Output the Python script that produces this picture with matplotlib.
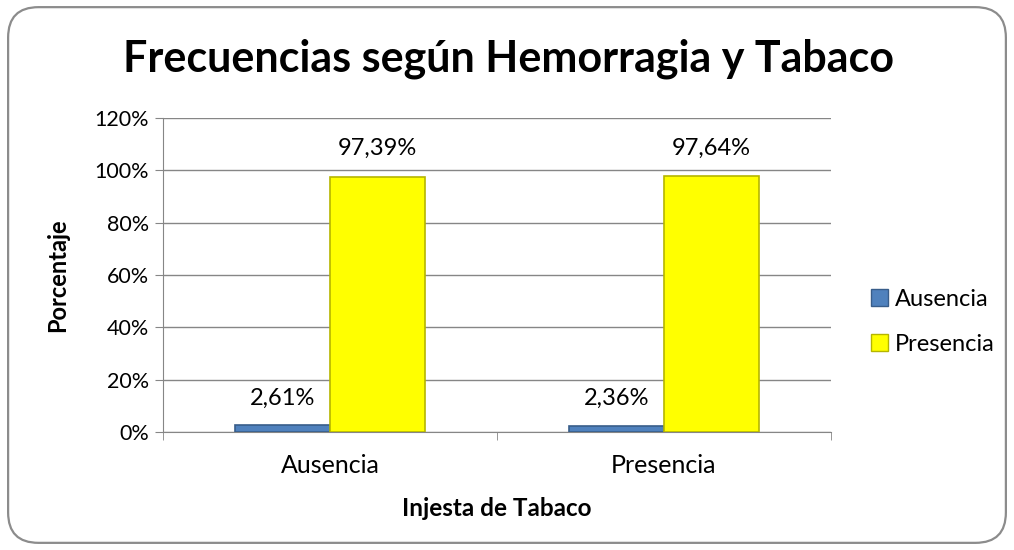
import matplotlib.pyplot as plt
import numpy as np
from matplotlib.patches import FancyBboxPatch, Patch

plt.rcParams['font.family'] = ['Lato', 'DejaVu Sans']

categories = ['Ausencia', 'Presencia']
series_names = ['Ausencia', 'Presencia']
ausencia = [2.61, 2.36]
presencia = [97.39, 97.64]
labels_aus = ['2,61%', '2,36%']
labels_pre = ['97,39%', '97,64%']

fig = plt.figure(figsize=(10.14, 5.5), dpi=100)

# rounded frame around the whole chart
frame = FancyBboxPatch((0.008, 0.013), 0.984, 0.974,
                       boxstyle='round,pad=0,rounding_size=0.03',
                       transform=fig.transFigure, facecolor='white',
                       edgecolor='#8c8c8c', linewidth=1.6, mutation_aspect=1014 / 550,
                       zorder=-1)
fig.patches.append(frame)

ax = fig.add_axes([0.1607, 0.2145, 0.6588, 0.571])
ax.set_facecolor('none')

x = np.arange(len(categories))
w = 0.284
b1 = ax.bar(x - w / 2, ausencia, w, color='#4F81BD', edgecolor='#385D8A', linewidth=1.2, zorder=3)
b2 = ax.bar(x + w / 2, presencia, w, color='#FFFF00', edgecolor='#B5B500', linewidth=1.2, zorder=3)

for bar, lab in zip(b1, labels_aus):
    ax.annotate(lab, (bar.get_x() + bar.get_width() / 2, bar.get_height()),
                xytext=(0, 12), textcoords='offset points', ha='center', va='bottom', fontsize=17)
for bar, lab in zip(b2, labels_pre):
    ax.annotate(lab, (bar.get_x() + bar.get_width() / 2, bar.get_height()),
                xytext=(0, 13), textcoords='offset points', ha='center', va='bottom', fontsize=17)

ax.set_ylim(0, 120)
ax.set_xlim(-0.5, 1.5)
ax.set_yticks(range(0, 121, 20))
ax.set_yticklabels([f'{v}%' for v in range(0, 121, 20)], fontsize=15.5)
ax.yaxis.grid(True, color='#868686', linewidth=1, zorder=0)
ax.set_axisbelow(True)

ax.set_xticks(x)
ax.set_xticklabels(categories, fontsize=18)
ax.tick_params(axis='x', length=0, pad=16)
ax.set_xticks([-0.5, 0.5, 1.5], minor=True)
ax.tick_params(axis='x', which='minor', length=6, color='#868686')
ax.tick_params(axis='y', length=6, color='#868686', pad=4)

for s in ['top', 'right']:
    ax.spines[s].set_visible(False)
for s in ['left', 'bottom']:
    ax.spines[s].set_color('#868686')

ax.set_ylabel('Porcentaje', fontsize=17, fontweight='bold', labelpad=18)
ax.set_xlabel('Injesta de Tabaco', fontsize=17.5, fontweight='bold', labelpad=14)

fig.text(0.501, 0.893, 'Frecuencias según Hemorragia y Tabaco', ha='center', va='center',
         fontsize=31, fontweight='bold')

handles = [Patch(facecolor='#4F81BD', edgecolor='#385D8A'),
           Patch(facecolor='#FFFF00', edgecolor='#B5B500')]
fig.legend(handles, series_names, loc='center left', bbox_to_anchor=(0.838, 0.415),
           frameon=False, fontsize=17, handlelength=0.7, handleheight=0.7,
           handletextpad=0.3, labelspacing=1.0)

fig.savefig('out.png', dpi=100)
